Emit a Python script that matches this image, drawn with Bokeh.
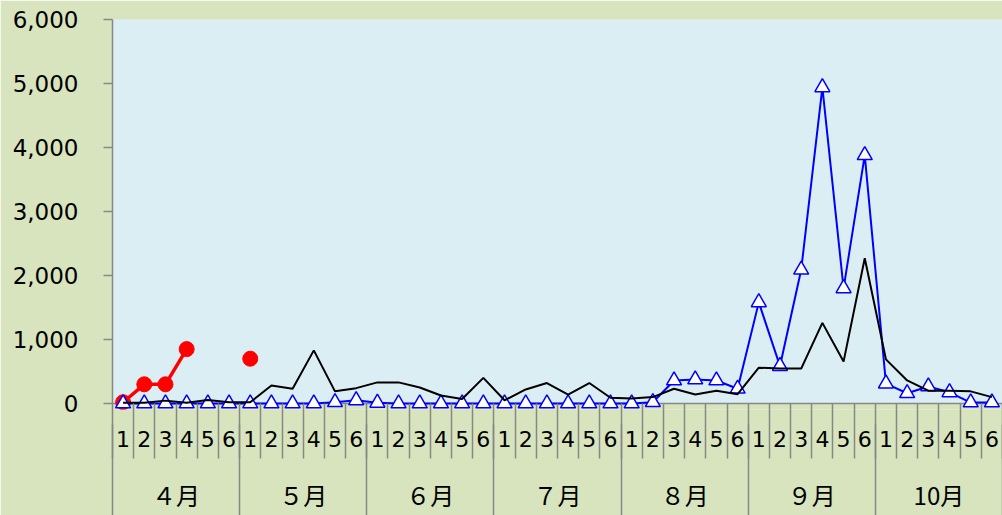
import math
from bokeh.plotting import figure
from bokeh.models import (Range1d, LinearAxis, FixedTicker, BoxAnnotation, Span,
                          NumeralTickFormatter, CustomJSTickFormatter)
from bokeh.embed import file_html
from bokeh.resources import INLINE

nan = float("nan")

months = ["４月", "５月", "６月", "７月", "８月", "９月", "10月"]
weeks = ["1", "2", "3", "4", "5", "6"]
y_ticks = [0, 1000, 2000, 3000, 4000, 5000, 6000]

red_vals = [20, 300, 300, 850, nan, nan,
            700, nan, nan, nan, nan, nan,
            nan, nan, nan, nan, nan, nan,
            nan, nan, nan, nan, nan, nan,
            nan, nan, nan, nan, nan, nan,
            nan, nan, nan, nan, nan, nan,
            nan, nan, nan, nan, nan, nan]

black_vals = [10, 10, 45, 10, 55, 20,
              20, 280, 230, 830, 190, 240,
              330, 330, 250, 125, 70, 400,
              50, 220, 320, 140, 320, 90,
              80, 100, 230, 140, 200, 145,
              560, 545, 545, 1260, 655, 2270,
              690, 360, 200, 200, 190, 100]

blue_vals = [0, 0, 0, 0, 0, 0,
             0, 0, 0, 0, 20, 50,
             10, 0, 0, 0, 0, 0,
             0, 0, 0, 0, 0, 0,
             0, 20, 360, 375, 360, 230,
             1580, 585, 2090, 4940, 1800, 3880,
             310, 160, 265, 175, 15, 15]

factors = [(m, w) for m in months for w in weeks]
n = len(factors)
nw = len(weeks)
xs = [i + 0.5 for i in range(n)]   # category centres on the x scale

GREEN = "#d7e4bd"
BLUEBG = "#dbeef4"
GREY = "#878787"

Y_MIN = -93.75   # ~6px below zero so markers at 0 are not clipped
gap_px = 6

p = figure(width=1002, height=515,
           x_range=Range1d(0, n), y_range=Range1d(Y_MIN, 6000),
           output_backend="svg", toolbar_location=None, x_axis_location=None,
           min_border_left=112, min_border_right=0, min_border_top=19,
           min_border_bottom=106)

p.background_fill_color = GREEN
p.border_fill_color = GREEN
p.outline_line_color = None
p.grid.visible = False

p.add_layout(BoxAnnotation(bottom=0, fill_color=BLUEBG, fill_alpha=1,
                           line_color=None, level="underlay"))
p.add_layout(Span(location=0, dimension="width", line_color=GREY,
                  line_width=1.5, level="underlay"))

# week labels + all separators in the week row
ax_w = LinearAxis(
    ticker=FixedTicker(ticks=xs, minor_ticks=list(range(n + 1))),
    formatter=CustomJSTickFormatter(args=dict(labels=[f[1] for f in factors]),
                                    code="return labels[Math.floor(tick)];"),
    major_tick_in=0, major_tick_out=0, minor_tick_in=gap_px, minor_tick_out=49,
    minor_tick_line_color=GREY, minor_tick_line_width=1.5,
    axis_line_color=None,
    major_label_standoff=-28, major_label_text_font="DejaVu Sans",
    major_label_text_font_size="22px", major_label_text_color="black")
p.add_layout(ax_w, "below")

# month labels + month separators down to the bottom
ax_m = LinearAxis(
    ticker=FixedTicker(ticks=[nw * i + nw / 2 for i in range(len(months))],
                       minor_ticks=[nw * i for i in range(len(months) + 1)]),
    formatter=CustomJSTickFormatter(args=dict(labels=months, nw=nw),
                                    code="return labels[Math.floor(tick / nw)];"),
    major_tick_in=0, major_tick_out=0, minor_tick_in=25, minor_tick_out=70,
    minor_tick_line_color=GREY, minor_tick_line_width=1.5,
    axis_line_color=None,
    major_label_standoff=-43, major_label_text_font="Noto Sans CJK JP",
    major_label_text_font_size="24px", major_label_text_color="black")
p.add_layout(ax_m, "below")

ya = p.yaxis[0]
ya.bounds = (0, 6000)
ya.ticker = FixedTicker(ticks=y_ticks)
ya.formatter = NumeralTickFormatter(format="0,0")
ya.major_tick_in = 0
ya.major_tick_out = 9
ya.minor_tick_in = 0
ya.minor_tick_out = 0
ya.axis_line_color = GREY
ya.axis_line_width = 1.5
ya.major_tick_line_color = GREY
ya.major_tick_line_width = 1.5
ya.major_label_standoff = 25
ya.major_label_text_font = "DejaVu Sans"
ya.major_label_text_font_size = "23px"
ya.major_label_text_color = "black"

# series
p.line(xs, red_vals, line_color="#ff0000", line_width=3.5)
p.scatter(xs, red_vals, marker="circle", size=15, fill_color="#ff0000", line_color="#ff0000")

p.line(xs, blue_vals, line_color="#0000ff", line_width=2)
p.scatter(xs, blue_vals, marker="triangle", size=15, fill_color="white",
          line_color="#0000ff", line_width=1.5)

p.line(xs, black_vals, line_color="black", line_width=2)

open("out.html", "w").write(file_html(p, INLINE))
